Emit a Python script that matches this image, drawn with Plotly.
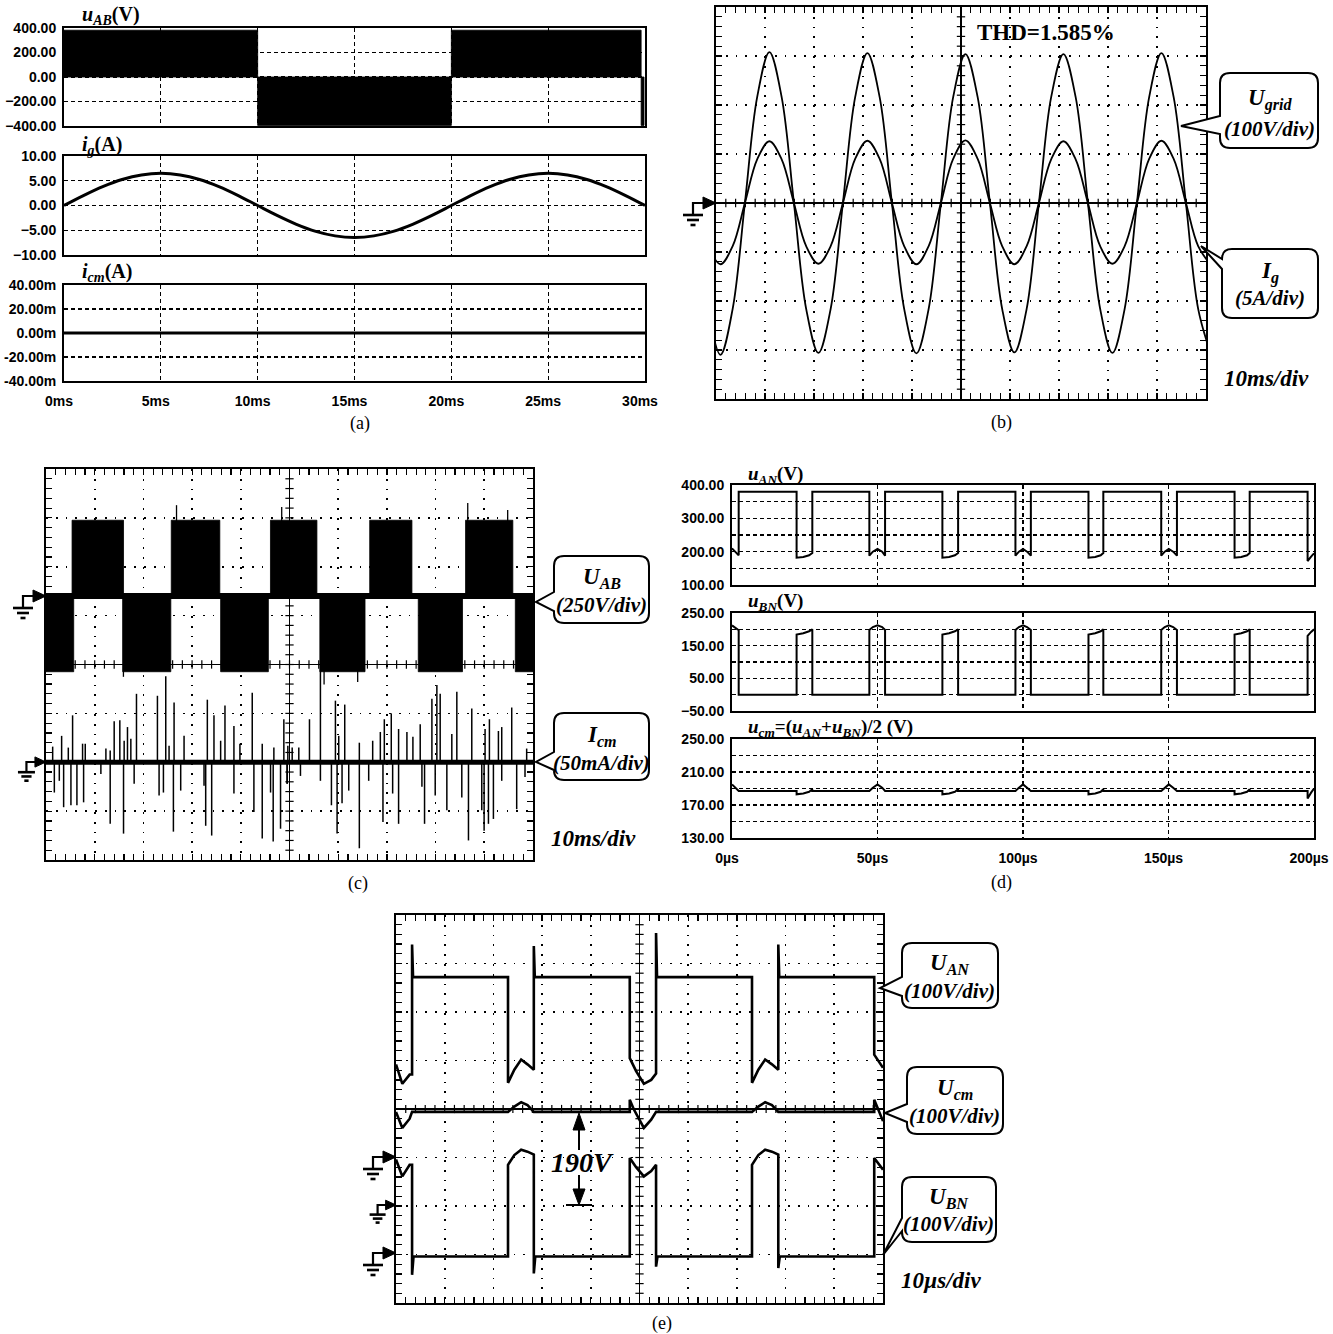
import plotly.graph_objects as go

W, H = 1333, 1334


def X(p):
    return p / W


def Y(p):
    return 1 - p / H


def xdom(a, b):
    return [X(a), X(b)]


def ydom(top, bot):
    return [Y(bot), Y(top)]


# ======================= DATA =======================
# (a) simulation, time in ms
a_uab_start = [0.0, 10.0, 20.0, 29.8]
a_uab_end = [10.0, 20.0, 29.8, 29.95]
a_uab_level = [382, -395, 382, -395]
a_ig_t = [0, 1, 2, 3, 4, 5, 6, 7, 8, 9, 10, 11, 12, 13, 14, 15, 16, 17, 18, 19, 20,
          21, 22, 23, 24, 25, 26, 27, 28, 29, 30]
a_ig = [0, 2.01, 3.82, 5.26, 6.18, 6.5, 6.18, 5.26, 3.82, 2.01, 0, -2.0, -3.8, -5.23, -6.14,
        -6.45, -6.14, -5.23, -3.8, -2.0, 0, 2.01, 3.82, 5.26, 6.18, 6.5, 6.18, 5.26, 3.82, 2.01, 0]
a_icm_t = [0, 7.5, 15, 22.5, 30]
a_icm = [0, 0, 0, 0, 0]
a_y3_ticks = [-0.04, -0.02, 0, 0.02, 0.04]
a_y3_text = ['-40.00m', '-20.00m', '0.00m', '20.00m', '40.00m']

# (b) scope, time in ms (trigger at screen centre)
b_t = [-51.6, -49.1, -46.6, -44.1, -41.6, -39.1, -36.6, -34.1, -31.6, -29.1,
       -26.6, -24.1, -21.6, -19.1, -16.6, -14.1, -11.6, -9.1, -6.6, -4.1,
       -1.6, 0.9, 3.4, 5.9, 8.4, 10.9, 13.4, 15.9, 18.4, 20.9,
       23.4, 25.9, 28.4, 30.9, 33.4, 35.9, 38.4, 40.9, 43.4, 45.9,
       48.4, 50.9]
b_ugrid = [-216, -310, -216, 0, 216, 308, 216, 0, -216, -306,
           -216, 0, 216, 306, 216, 0, -216, -307, -216, 0,
           216, 304, 216, 0, -216, -305, -216, 0, 216, 304,
           216, 0, -216, -306, -216, 0, 216, 306, 216, 0,
           -216, -305]
b_ig = [-4.4, -6.25, -4.4, 0, 4.45, 6.3, 4.45, 0, -4.4, -6.2,
        -4.4, 0, 4.5, 6.35, 4.5, 0, -4.4, -6.25, -4.4, 0,
        4.5, 6.4, 4.5, 0, -4.4, -6.25, -4.4, 0, 4.45, 6.3,
        4.45, 0, -4.4, -6.2, -4.4, 0, 4.5, 6.35, 4.5, 0,
        -4.4, -6.25]

# (c) scope, time in ms
c_pos_start = [-44.65, -24.28, -3.91, 16.47, 36.15]
c_pos_end = [-34.08, -14.31, 5.63, 25.14, 45.86]
c_neg_start = [-50.0, -34.25, -14.14, 6.23, 26.44, 46.37]
c_neg_end = [-44.31, -24.37, -4.34, 15.51, 35.53, 50.0]
c_uab_high = 388
c_uab_low = -387
c_uab_spike_t = [-23.2, -1.6, 36.6, 44.8, -34.1, 7.1, 14.0]
c_uab_spike_v = [465, 455, 476, 440, -413, -452, -440]
c_icm_t = [-48.63, -46.79, -45.42, -44.54, -42.49, -41.94, -37.70, -36.82, -36.00, -34.84,
           -33.95, -33.27, -32.58, -31.42, -27.12, -25.41, -24.73, -23.70, -21.65, -16.87,
           -15.51, -14.14, -13.25, -11.41, -10.18, -7.65, -5.60, -3.21, -1.16, -0.34,
           -48.29, -47.27, -46.38, -44.88, -43.65, -42.28, -38.73, -36.82, -34.08, -31.90,
           -26.78, -25.89, -23.84, -22.34, -17.55, -17.21, -15.98, -11.41, -7.31, -5.60,
           -3.89, -3.35, -1.84, -0.48,
           0.55, 1.91, 4.10, 6.35, 9.43, 10.11, 11.34, 14.34, 17.08, 18.65,
           19.47, 20.90, 22.40, 24.11, 25.34, 26.84, 29.24, 30.26, 30.94, 33.33,
           34.36, 37.43, 40.16, 41.05, 42.90, 43.58, 45.63, 48.70,
           -0.48, 2.25, 6.35, 8.61, 9.77, 10.79, 12.16, 14.34, 16.26, 19.19,
           21.18, 22.40, 27.19, 27.73, 29.92, 32.31, 35.38, 36.75, 39.48, 39.96,
           40.85, 41.87, 43.58, 46.65, 48.36]
c_icm_v = [16, 27, 15, 48, 19, 19, 14, 12, 42, 43,
           22, 36, 24, 70, 68, 88, 17, 61, 27, 64,
           48, 22, 58, 37, 19, 71, 19, 15, 44, 17,
           -31, -19, -46, -44, -44, -41, -12, -63, -73, -22,
           -34, -31, -71, -29, -24, -65, -75, -32, -51, -78,
           -31, -81, -68, -22,
           15, 15, 44, 95, 63, 27, 59, 20, 22, 31,
           44, 50, 34, 31, 26, 39, 65, 79, 70, 29,
           72, 55, 34, 44, 32, 36, 56, 14,
           -22, -14, -19, -44, -73, -42, -29, -88, -19, -61,
           -32, -63, -25, -63, -34, -49, -36, -80, -49, -70,
           -63, -58, -19, -48, -15]

# (d) simulation, time in us
d_t = [0, 1.2, 2.3, 2.3, 22.2, 22.2, 24.5, 26.5, 27.6, 27.6,
       47.2, 47.2, 48.4, 50.0, 51.6, 52.6, 52.6,
       72.3, 72.3, 74.6, 76.6, 77.7, 77.7,
       97.4, 97.4, 98.6, 100.0, 101.4, 102.7, 102.7,
       122.5, 122.5, 124.8, 126.7, 127.6, 127.6,
       147.5, 147.5, 148.7, 150.1, 151.6, 152.9, 152.9,
       172.7, 172.7, 175.0, 177.0, 177.9, 177.9,
       197.8, 197.8, 199.0, 200.0]
d_uan = [210, 200, 189, 380, 380, 182, 184, 189, 196, 380,
         380, 188, 200, 208, 200, 188, 380,
         380, 182, 184, 189, 196, 380,
         380, 188, 200, 208, 200, 188, 380,
         380, 182, 184, 189, 196, 380,
         380, 188, 200, 208, 200, 188, 380,
         380, 182, 184, 189, 196, 380,
         380, 172, 185, 195]
d_ubn = [212, 205, 197, 0, 0, 184, 188, 194, 200, 0,
         0, 198, 207, 212, 207, 198, 0,
         0, 184, 188, 194, 200, 0,
         0, 198, 207, 212, 207, 198, 0,
         0, 184, 188, 194, 200, 0,
         0, 198, 207, 212, 207, 198, 0,
         0, 184, 188, 194, 200, 0,
         0, 180, 192, 200]
d_ucm = [195, 191, 187, 187, 187, 183, 184, 186, 189, 187,
         187, 187, 191, 195, 191, 187, 187,
         187, 183, 184, 186, 189, 187,
         187, 187, 191, 195, 191, 187, 187,
         187, 183, 184, 186, 189, 187,
         187, 187, 191, 195, 191, 187, 187,
         187, 183, 184, 186, 189, 187,
         187, 178, 185, 190]

# (e) scope, time in us
e_uan_t = [-50.0, -48.7, -47.2, -46.7, -46.7, -46.5, -27.0, -27.0, -25.7, -24.3, -23.0, -21.7,
           -21.7, -21.5, -2.0, -2.0, -0.7, 0.9, 2.4, 3.4, 3.4, 3.6, 23.1, 23.1, 24.4, 25.8,
           27.2, 28.5, 28.5, 28.7, 48.2, 48.2, 50.0]
e_uan = [192, 152, 171, 171, 439, 372, 372, 154, 181, 202, 192, 181,
         436, 372, 372, 205, 178, 152, 160, 173, 463, 372, 372, 154, 181, 202,
         192, 181, 439, 372, 372, 212, 185]
e_ubn_t = [-50.0, -48.7, -47.2, -46.7, -46.7, -46.4, -27.0, -27.0, -25.7, -24.3, -23.0, -21.7,
           -21.7, -21.4, -2.0, -2.0, -0.7, 0.9, 2.4, 3.4, 3.4, 3.7, 23.1, 23.1, 24.4, 25.8,
           27.2, 28.5, 28.5, 28.8, 48.2, 48.2, 50.0]
e_ubn = [196, 161, 185, 185, -42, -4, -4, 185, 205, 216, 212, 206,
         -39, -4, -4, 199, 180, 161, 172, 185, -25, -4, -4, 185, 205, 216,
         212, 206, -28, -4, -4, 199, 175]
e_ucm_t = [-50.0, -48.7, -47.2, -46.7, -27.0, -25.7, -24.3, -23.0, -21.7, -2.0, -2.0, -1.2,
           0.9, 2.4, 3.4, 23.1, 24.4, 25.8, 27.2, 28.5, 48.2, 48.2, 50.0]
e_ucm = [194, 161, 180, 194, 194, 205, 214, 208, 194, 194, 219, 200,
         161, 178, 194, 194, 205, 214, 208, 194, 194, 219, 175]

# ======================= HELPERS =======================
fig = go.Figure()
shapes = []
annotations = []
BLACK = 'black'
SERIF = 'Liberation Serif'
TICKFONT = dict(family='Liberation Sans', size=14, color=BLACK, weight='bold')


def line(x, y, xa, ya, width=2.0, shape='linear'):
    fig.add_trace(go.Scatter(x=x, y=y, xaxis=xa, yaxis=ya, mode='lines',
                             line=dict(color=BLACK, width=width, shape=shape),
                             hoverinfo='skip', showlegend=False))


def fill(x, y, xa, ya):
    fig.add_trace(go.Scatter(x=x, y=y, xaxis=xa, yaxis=ya, mode='lines', fill='toself',
                             fillcolor=BLACK, line=dict(color=BLACK, width=0.8),
                             hoverinfo='skip', showlegend=False))


def blocks(starts, ends, levels):
    xs, ys = [], []
    for s, e, lv in zip(starts, ends, levels):
        xs += [s, s, e, e, s, None]
        ys += [0, lv, lv, 0, 0, None]
    return xs, ys


def spikes(ts, vs, base=0.0):
    xs, ys = [], []
    for t, v in zip(ts, vs):
        xs += [t, t, None]
        ys += [base, v, None]
    return xs, ys


def center_ticks(xa, ya):
    xs, ys = [], []
    for i in range(49):
        xv = -48 + 2 * i
        xs += [xv, xv, None]
        ys += [-0.085, 0.085, None]
    for j in range(39):
        yv = -3.8 + 0.2 * j
        xs += [-0.85, 0.85, None]
        ys += [yv, yv, None]
    line(xs, ys, xa, ya, width=1.2)


def f(v):
    return f"{v:.5f}"


def ground(tx, ty, s=1.0):
    cx = tx - 23 * s
    shapes.append(dict(type='path', xref='paper', yref='paper',
                       path=f"M{f(X(cx))},{f(Y(ty + 12 * s))} L{f(X(cx))},{f(Y(ty))} L{f(X(tx - 10 * s))},{f(Y(ty))}",
                       line=dict(color=BLACK, width=2.2)))
    shapes.append(dict(type='path', xref='paper', yref='paper',
                       path=f"M{f(X(tx - 13 * s))},{f(Y(ty - 6 * s))} L{f(X(tx))},{f(Y(ty))} L{f(X(tx - 13 * s))},{f(Y(ty + 6 * s))} Z",
                       fillcolor=BLACK, line=dict(color=BLACK, width=1)))
    for dy, hw in [(12, 10), (17, 6), (22, 2.5)]:
        shapes.append(dict(type='line', xref='paper', yref='paper',
                           x0=X(cx - hw * s), x1=X(cx + hw * s), y0=Y(ty + dy * s), y1=Y(ty + dy * s),
                           line=dict(color=BLACK, width=2.6)))


def callout(x0, y0, x1, y1, tip, b1, b2, r=10):
    tx, ty = tip
    p = (f"M{f(X(x0))},{f(Y(b1))} L{f(X(x0))},{f(Y(y0 + r))} Q{f(X(x0))},{f(Y(y0))} {f(X(x0 + r))},{f(Y(y0))} "
         f"L{f(X(x1 - r))},{f(Y(y0))} Q{f(X(x1))},{f(Y(y0))} {f(X(x1))},{f(Y(y0 + r))} "
         f"L{f(X(x1))},{f(Y(y1 - r))} Q{f(X(x1))},{f(Y(y1))} {f(X(x1 - r))},{f(Y(y1))} "
         f"L{f(X(x0 + r))},{f(Y(y1))} Q{f(X(x0))},{f(Y(y1))} {f(X(x0))},{f(Y(y1 - r))} "
         f"L{f(X(x0))},{f(Y(b2))} L{f(X(tx))},{f(Y(ty))} Z")
    shapes.append(dict(type='path', xref='paper', yref='paper', path=p, fillcolor='white',
                       line=dict(color=BLACK, width=2), layer='above'))


def ann(x, y, text, size, xanchor='center', family=SERIF):
    annotations.append(dict(x=X(x), y=Y(y), xref='paper', yref='paper', text=text, showarrow=False,
                            xanchor=xanchor, yanchor='middle',
                            font=dict(family=family, size=size, color=BLACK)))


def sim_x(dom, anchor, rng, dtick, suffix, labels):
    return dict(domain=dom, anchor=anchor, range=rng, dtick=dtick, tick0=0, ticksuffix=suffix,
                showticklabels=labels, tickfont=TICKFONT, ticks='', ticklabelstandoff=6,
                ticklabelshift=-5, ticklabeloverflow='allow',
                showline=True, mirror=True, linecolor=BLACK, linewidth=2,
                showgrid=True, gridcolor=BLACK, gridwidth=1.3, griddash='4px,3px',
                zeroline=False, fixedrange=True, automargin=False)


def sim_y(dom, anchor, rng, **kw):
    d = dict(domain=dom, anchor=anchor, range=rng, tickfont=TICKFONT, ticks='',
             tickformat='.2f', ticklabelstandoff=3, ticklabeloverflow='allow',
             showline=True, mirror=True, linecolor=BLACK, linewidth=2,
             showgrid=True, gridcolor=BLACK, gridwidth=1.3, griddash='4px,3px',
             zeroline=False, fixedrange=True, automargin=False)
    d.update(kw)
    return d


def scope_x(dom, anchor):
    return dict(domain=dom, anchor=anchor, range=[-50, 50], dtick=10, tick0=0,
                showticklabels=False, ticks='inside', ticklen=6, tickwidth=1.2, tickcolor=BLACK,
                showline=True, mirror='ticks', linecolor=BLACK, linewidth=2,
                showgrid=True, gridcolor=BLACK, gridwidth=1.7, griddash='1.7px,8.1px',
                zeroline=True, zerolinecolor=BLACK, zerolinewidth=1.6,
                minor=dict(dtick=2, ticks='inside', ticklen=6, tickwidth=1.2, tickcolor=BLACK,
                           showgrid=False),
                fixedrange=True, automargin=False)


def scope_y(dom, anchor):
    return dict(domain=dom, anchor=anchor, range=[-4, 4], dtick=1, tick0=0,
                showticklabels=False, ticks='inside', ticklen=6, tickwidth=1.2, tickcolor=BLACK,
                showline=True, mirror='ticks', linecolor=BLACK, linewidth=2,
                showgrid=True, gridcolor=BLACK, gridwidth=1.7, griddash='1.7px,8.1px',
                zeroline=True, zerolinecolor=BLACK, zerolinewidth=1.6,
                minor=dict(dtick=0.2, ticks='inside', ticklen=6, tickwidth=1.2, tickcolor=BLACK,
                           showgrid=False),
                fixedrange=True, automargin=False)


def channel(base, anchor, ground_div, per_div):
    # overlay axis placing 0 of the channel at ground_div with per_div units per division
    return dict(overlaying=base, anchor=anchor, visible=False, fixedrange=True, automargin=False,
                range=[(-4 - ground_div) * per_div, (4 - ground_div) * per_div])


layout = {}

# ======================= (a) =======================
A_X0, A_X1 = 64, 645
layout['xaxis'] = sim_x(xdom(A_X0, A_X1), 'y', [0, 30], 5, 'ms', False)
layout['yaxis'] = sim_y(ydom(28, 126), 'x', [-400, 400], dtick=200)
layout['xaxis2'] = sim_x(xdom(A_X0, A_X1), 'y2', [0, 30], 5, 'ms', False)
layout['yaxis2'] = sim_y(ydom(156, 255), 'x2', [-10, 10], dtick=5)
layout['xaxis3'] = sim_x(xdom(A_X0, A_X1), 'y3', [0, 30], 5, 'ms', True)
layout['yaxis3'] = sim_y(ydom(285, 381), 'x3', [-0.04, 0.04], tickvals=a_y3_ticks, ticktext=a_y3_text)

bx, by = blocks(a_uab_start, a_uab_end, a_uab_level)
fill(bx, by, 'x', 'y')
line(a_ig_t, a_ig, 'x2', 'y2', width=3, shape='spline')
line(a_icm_t, a_icm, 'x3', 'y3', width=3)

ann(80, 16, "<b><i>u</i><sub><i>AB</i></sub>(V)</b>", 20, 'left')
ann(80, 145, "<b><i>i</i><sub><i>g</i></sub>(A)</b>", 20, 'left')
ann(80, 272, "<b><i>i</i><sub><i>cm</i></sub>(A)</b>", 20, 'left')
ann(360, 423, "(a)", 18)

# ======================= (b) =======================
layout['xaxis4'] = scope_x(xdom(716, 1206), 'y4')
layout['yaxis4'] = scope_y(ydom(7, 399), 'x4')
layout['yaxis5'] = channel('y4', 'x4', 0.0, 100)   # U_grid 100 V/div
layout['yaxis6'] = channel('y4', 'x4', 0.0, 5)     # I_g 5 A/div
center_ticks('x4', 'y4')
line(b_t, b_ugrid, 'x4', 'y5', width=1.8, shape='spline')
line(b_t, b_ig, 'x4', 'y6', width=1.8, shape='spline')

ground(716, 203)
ann(1046, 33, "<b>THD=1.585%</b>", 23)
callout(1220, 73, 1318, 148, (1181, 126), 116, 134)
ann(1270, 100, "<b><i>U</i><sub><i>grid</i></sub></b>", 23)
ann(1269, 129, "<b><i>(100V/div)</i></b>", 21)
callout(1222, 249, 1318, 318, (1201, 246), 259, 269)
ann(1270, 272, "<b><i>I</i><sub><i>g</i></sub></b>", 23)
ann(1270, 298, "<b><i>(5A/div)</i></b>", 21)
ann(1266, 378, "<b><i>10ms/div</i></b>", 23)
ann(1001, 422, "(b)", 18)

# ======================= (c) =======================
layout['xaxis5'] = scope_x(xdom(46, 533), 'y7')
layout['yaxis7'] = scope_y(ydom(469, 860), 'x5')
layout['yaxis8'] = channel('y7', 'x5', 1.40, 250)   # U_AB 250 V/div
layout['yaxis9'] = channel('y7', 'x5', -2.0, 50)    # I_cm 50 mA/div
center_ticks('x5', 'y7')
px_, py_ = blocks(c_pos_start, c_pos_end, [c_uab_high] * len(c_pos_start))
fill(px_, py_, 'x5', 'y8')
nx_, ny_ = blocks(c_neg_start, c_neg_end, [c_uab_low] * len(c_neg_start))
fill(nx_, ny_, 'x5', 'y8')
line([-50, 50], [0, 0], 'x5', 'y8', width=6)
sx, sy = spikes(c_uab_spike_t, c_uab_spike_v)
line(sx, sy, 'x5', 'y8', width=1.3)
line([-50, 50], [0, 0], 'x5', 'y9', width=5)
sx, sy = spikes(c_icm_t, c_icm_v)
line(sx, sy, 'x5', 'y9', width=1.5)

ground(46, 596)
ground(46, 762, 0.85)
callout(554, 556, 649, 623, (536, 602), 592, 611)
ann(602, 578, "<b><i>U</i><sub><i>AB</i></sub></b>", 23)
ann(601, 605, "<b><i>(250V/div)</i></b>", 21)
callout(554, 713, 649, 780, (536, 762), 752, 770)
ann(602, 736, "<b><i>I</i><sub><i>cm</i></sub></b>", 23)
ann(601, 763, "<b><i>(50mA/div)</i></b>", 21)
ann(593, 838, "<b><i>10ms/div</i></b>", 23)
ann(358, 883, "(c)", 18)

# ======================= (d) =======================
D_X0, D_X1 = 732, 1314
layout['xaxis6'] = sim_x(xdom(D_X0, D_X1), 'y10', [0, 200], 50, 'µs', False)
layout['yaxis10'] = sim_y(ydom(485, 585), 'x6', [100, 400], dtick=100, tick0=100,
                          minor=dict(dtick=50, showgrid=True, gridcolor=BLACK, gridwidth=1.3,
                                     griddash='4px,3px'))
layout['xaxis7'] = sim_x(xdom(D_X0, D_X1), 'y11', [0, 200], 50, 'µs', False)
layout['yaxis11'] = sim_y(ydom(613, 711), 'x7', [-50, 250], dtick=100, tick0=-50,
                          minor=dict(dtick=50, tick0=0, showgrid=True, gridcolor=BLACK, gridwidth=1.3,
                                     griddash='4px,3px'))
layout['xaxis8'] = sim_x(xdom(D_X0, D_X1), 'y12', [0, 200], 50, 'µs', True)
layout['yaxis12'] = sim_y(ydom(739, 838), 'x8', [130, 250], dtick=40, tick0=130,
                          minor=dict(dtick=20, tick0=130, showgrid=True, gridcolor=BLACK, gridwidth=1.3,
                                     griddash='4px,3px'))
line(d_t, d_uan, 'x6', 'y10', width=2)
line(d_t, d_ubn, 'x7', 'y11', width=2)
line(d_t, d_ucm, 'x8', 'y12', width=2)

ann(746, 475, "<b><i>u</i><sub><i>AN</i></sub>(V)</b>", 19, 'left')
ann(746, 602, "<b><i>u</i><sub><i>BN</i></sub>(V)</b>", 19, 'left')
ann(746, 728, "<b><i>u</i><sub><i>cm</i></sub>=(<i>u</i><sub><i>AN</i></sub>+<i>u</i><sub><i>BN</i></sub>)/2 (V)</b>",
    19, 'left')
ann(1001, 882, "(d)", 18)

# ======================= (e) =======================
layout['xaxis9'] = scope_x(xdom(396, 883), 'y13')
layout['yaxis13'] = scope_y(ydom(915, 1303), 'x9')
layout['yaxis14'] = channel('y13', 'x9', -1.0, 100)   # U_AN
layout['yaxis15'] = channel('y13', 'x9', -2.0, 100)   # U_cm
layout['yaxis16'] = channel('y13', 'x9', -3.0, 100)   # U_BN
center_ticks('x9', 'y13')
line(e_uan_t, e_uan, 'x9', 'y14', width=2.6)
line(e_ucm_t, e_ucm, 'x9', 'y15', width=2.6)
line(e_ubn_t, e_ubn, 'x9', 'y16', width=2.6)

ground(396, 1157)
ground(396, 1205, 0.8)
ground(396, 1253)
callout(902, 943, 998, 1008, (880, 988), 977, 996)
ann(950, 964, "<b><i>U</i><sub><i>AN</i></sub></b>", 23)
ann(949, 991, "<b><i>(100V/div)</i></b>", 21)
callout(907, 1067, 1003, 1134, (885, 1113), 1104, 1122)
ann(955, 1089, "<b><i>U</i><sub><i>cm</i></sub></b>", 23)
ann(954, 1116, "<b><i>(100V/div)</i></b>", 21)
callout(902, 1177, 996, 1242, (883, 1255), 1218, 1231)
ann(949, 1198, "<b><i>U</i><sub><i>BN</i></sub></b>", 23)
ann(948, 1224, "<b><i>(100V/div)</i></b>", 21)
ann(941, 1280, "<b><i>10µs/div</i></b>", 23)
ann(662, 1323, "(e)", 18)

# 190 V dimension arrow
shapes.append(dict(type='line', xref='paper', yref='paper', x0=X(579), x1=X(579), y0=Y(1128), y1=Y(1150),
                   line=dict(color=BLACK, width=2)))
shapes.append(dict(type='line', xref='paper', yref='paper', x0=X(579), x1=X(579), y0=Y(1175), y1=Y(1191),
                   line=dict(color=BLACK, width=2)))
shapes.append(dict(type='path', xref='paper', yref='paper',
                   path=f"M{f(X(573))},{f(Y(1130))} L{f(X(579))},{f(Y(1113))} L{f(X(585))},{f(Y(1130))} Z",
                   fillcolor=BLACK, line=dict(color=BLACK, width=1)))
shapes.append(dict(type='path', xref='paper', yref='paper',
                   path=f"M{f(X(573))},{f(Y(1189))} L{f(X(579))},{f(Y(1205))} L{f(X(585))},{f(Y(1189))} Z",
                   fillcolor=BLACK, line=dict(color=BLACK, width=1)))
shapes.append(dict(type='line', xref='paper', yref='paper', x0=X(566), x1=X(592), y0=Y(1205), y1=Y(1205),
                   line=dict(color=BLACK, width=2)))
ann(582, 1162, "<b><i>190V</i></b>", 28)

fig.update_layout(width=W, height=H, autosize=False,
                  margin=dict(l=0, r=0, t=0, b=0, pad=0, autoexpand=False),
                  paper_bgcolor='white', plot_bgcolor='white',
                  showlegend=False, hovermode=False,
                  shapes=shapes, annotations=annotations, **layout)

fig.write_html("out.html", config=dict(displayModeBar=False, staticPlot=True))
